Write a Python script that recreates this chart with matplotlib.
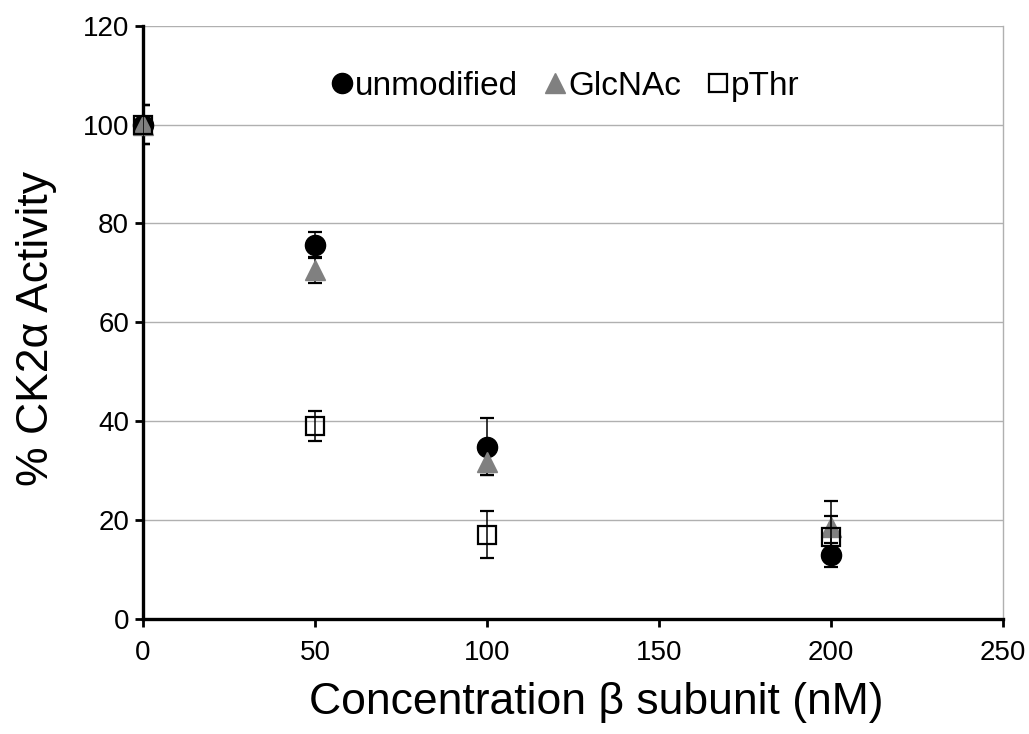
import numpy as np
import matplotlib
matplotlib.use("Agg")
import matplotlib.pyplot as plt

plt.rcParams['font.family'] = ['Liberation Sans', 'DejaVu Sans']

# beta subunit concentration (nM)
conc = [0, 50, 100, 200]

# % CK2alpha activity and error
unmod = [100, 75.7, 34.8, 12.9]
unmod_err = [4.0, 2.6, 5.8, 2.4]
glcnac = [100, 70.5, 31.7, 18.5]
glcnac_err = [4.0, 2.5, 2.6, 5.3]
pthr = [100, 39.0, 17.0, 16.6]
pthr_err = [4.0, 3.0, 4.8, 4.2]

fig = plt.figure(figsize=(10.29, 7.34), dpi=100)
ax = fig.add_axes([0.139, 0.157, 0.836, 0.808])

series = [
    (unmod, unmod_err, dict(marker='o', color='black', mfc='black', mec='black', ms=14.5), 'unmodified'),
    (glcnac, glcnac_err, dict(marker='^', color='#808080', mfc='#808080', mec='#808080', ms=15), 'GlcNAc'),
    (pthr, pthr_err, dict(marker='s', color='black', mfc='none', mec='black', ms=13.5, mew=1.6), 'pThr'),
]

handles = []
for i, (vals, errs, style, name) in enumerate(series):
    ax.errorbar(conc, vals, yerr=errs, fmt='none', ecolor='black',
                elinewidth=1.1, capsize=5, capthick=1.6, zorder=3 + i)
    h, = ax.plot(conc, vals, linestyle='none', label=name, zorder=3.5 + i,
                 clip_on=False, **style)
    handles.append(h)

ax.set_xlim(0, 250)
ax.set_ylim(0, 120)
ax.set_xticks(np.arange(0, 251, 50))
ax.set_yticks(np.arange(0, 121, 20))
ax.yaxis.grid(True, color='#b0b0b0', linewidth=1.0)
ax.set_axisbelow(True)

for s in ['left', 'bottom']:
    ax.spines[s].set_linewidth(2.4)
    ax.spines[s].set_color('black')
ax.spines['top'].set_visible(False)
ax.spines['right'].set_color('#b0b0b0')
ax.spines['right'].set_linewidth(1.0)

ax.tick_params(axis='both', labelsize=20, direction='out', length=6,
               width=2, colors='black', pad=4)
ax.tick_params(axis='x', pad=9)

ax.set_xlabel('Concentration β subunit (nM)', fontsize=32)
ax.xaxis.set_label_coords(0.527, -0.107)
ax.xaxis.label.set_va('top')
ax.set_ylabel('% CK2α Activity', fontsize=32)
ax.yaxis.set_label_coords(-0.100, 0.49)

ax.legend(handles=handles, loc='center', bbox_to_anchor=(0.492, 0.898),
          ncol=3, frameon=False, fontsize=24, handlelength=0.55,
          handletextpad=0.1, columnspacing=0.85, markerscale=1.0)

fig.savefig('out.png', dpi=100)
